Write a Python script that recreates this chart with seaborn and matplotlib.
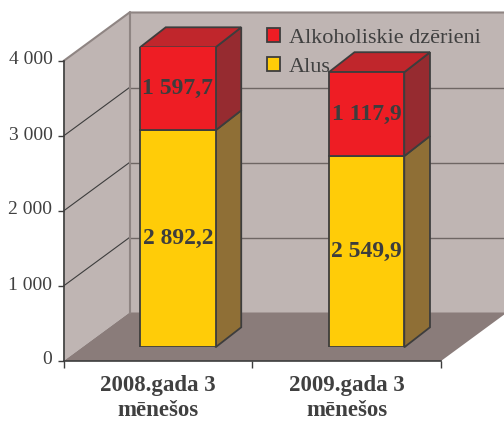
## Stacked 3D-look bars: beer and alcoholic drinks, first 3 months of 2008 and 2009.
import matplotlib
matplotlib.use("Agg")
import matplotlib.pyplot as plt
from matplotlib.patches import Polygon
from matplotlib.transforms import IdentityTransform, ScaledTranslation
import seaborn as sns

categories = ['2008.gada 3\nmēnešos', '2009.gada 3\nmēnešos']
alus = [2892.2, 2549.9]
alkohols = [1597.7, 1117.9]
alus_labels = ['2 892,2', '2 549,9']
alkohols_labels = ['1 597,7', '1 117,9']
y_ticks = [0, 1000, 2000, 3000, 4000]
y_tick_labels = ['0', '1 000', '2 000', '3 000', '4 000']
series_names = ['Alus', 'Alkoholiskie dzērieni']
y_max = 4000

W, H = 504, 421
WALL = '#bfb5b3'
FLOOR = '#8a7c7a'
WALL_EDGE = '#8f8583'
DARK = '#3d3d3d'
TEXT = '#404040'
RED, RED_SIDE, RED_TOP = '#ee1d24', '#962b30', '#c0262c'
YELLOW, YELLOW_SIDE = '#ffcc08', '#8f6f36'
DEPTH = (66, 48.5)  # px, front plane to back wall
BAR_SHIFT = (19.9, 13.7)  # px, front plane to bar faces
BAR_DEPTH = (25.7, 20)  # px

sns.set_style('white')
plt.rcParams['font.family'] = ['Liberation Serif', 'DejaVu Serif']

fig = plt.figure(figsize=(W / 100, H / 100), dpi=100)
rect = [63.5 / W, 60 / H, 377.5 / W, 300 / H]
ax = fig.add_axes(rect)
ax_bars = fig.add_axes([rect[0] + BAR_SHIFT[0] / W, rect[1] + BAR_SHIFT[1] / H, rect[2], rect[3]])


def shape(axis, pts, **kw):
    """Add a polygon given in pixels, free of the axes clip."""
    p = Polygon(pts, closed=True, transform=IdentityTransform(), clip_on=False, **kw)
    axis.add_patch(p)
    return p


# Bars.
sns.barplot(x=categories, y=alus, color=YELLOW, saturation=1, width=0.4, edgecolor=DARK,
            linewidth=1.3, label=series_names[0], ax=ax_bars)
sns.barplot(x=categories, y=alkohols, bottom=alus, color=RED, saturation=1, width=0.4,
            edgecolor=DARK, linewidth=1.3, label=series_names[1], ax=ax_bars)
ax_bars.set_xlim(-0.5, 1.5)
ax_bars.set_ylim(0, y_max)

# Front plane axes, ticks and labels.
ax.set_xlim(-0.5, 1.5)
ax.set_ylim(0, y_max)
ax.patch.set_visible(False)
sns.despine(ax=ax, top=True, right=True)
for side in ['left', 'bottom']:
    ax.spines[side].set_color(DARK)
    ax.spines[side].set_linewidth(1.2)
ax.set_yticks(y_ticks, y_tick_labels, fontsize=14, color=TEXT)
ax.tick_params(axis='y', left=True, length=4, width=1, color=DARK, pad=4)
for lab in ax.get_yticklabels():
    lab.set_transform(lab.get_transform() + ScaledTranslation(0, 3 / 100, fig.dpi_scale_trans))
ax.set_xticks(range(len(categories)), categories, fontsize=16.5, fontweight='bold', color=TEXT,
              linespacing=1.25)
ax.tick_params(axis='x', which='major', length=0, pad=10)
ax.set_xticks([-0.5, 0.5, 1.5], minor=True)
ax.tick_params(axis='x', which='minor', bottom=True, length=5, width=1, color=DARK)

# Walls and floor, built from the front plane corners.
to_px = ax.transData.transform
x0, y0 = to_px((-0.5, 0))
x1, _ = to_px((1.5, 0))
_, y4 = to_px((-0.5, y_max))
dx, dy = DEPTH
shape(ax, [(x0, y0), (x0 + dx, y0 + dy), (x0 + dx, y4 + dy), (x0, y4)], facecolor=WALL, edgecolor='none', zorder=0.1)
shape(ax, [(x0 + dx, y0 + dy), (W + 5, y0 + dy), (W + 5, y4 + dy), (x0 + dx, y4 + dy)], facecolor=WALL, edgecolor='none', zorder=0.1)
shape(ax, [(x0, y0), (x1, y0), (x1 + dx, y0 + dy), (x0 + dx, y0 + dy)], facecolor=FLOOR, edgecolor='none', zorder=0.2)
for val in y_ticks[1:-1]:
    _, yv = to_px((-0.5, val))
    ax.plot([x0, x0 + dx], [yv, yv + dy], color=DARK, lw=0.8, transform=IdentityTransform(), clip_on=False, zorder=0.3)
    ax.plot([x0 + dx, W + 5], [yv + dy, yv + dy], color='#6e6664', lw=1, transform=IdentityTransform(), clip_on=False, zorder=0.3)
ax.plot([x0, x0 + dx, W + 5], [y4, y4 + dy, y4 + dy], color=WALL_EDGE, lw=1.5, transform=IdentityTransform(), clip_on=False, zorder=0.4)
ax.plot([x0 + dx, x0 + dx], [y0 + dy, y4 + dy], color=WALL_EDGE, lw=1.5, transform=IdentityTransform(), clip_on=False, zorder=0.4)

# Depth faces of the bars, taken from the drawn patches and cut at the axis top.
bdx, bdy = BAR_DEPTH
n = len(categories)
for i, bar in enumerate(ax_bars.patches[:2 * n]):
    left, right = bar.get_x(), bar.get_x() + bar.get_width()
    low = min(bar.get_y(), y_max)
    high = min(bar.get_y() + bar.get_height(), y_max)
    (xa, ya), (xb, yb) = ax_bars.transData.transform([(left, low), (right, high)])
    side = YELLOW_SIDE if i < n else RED_SIDE
    shape(ax_bars, [(xb, ya), (xb + bdx, ya + bdy), (xb + bdx, yb + bdy), (xb, yb)],
          facecolor=side, edgecolor=DARK, linewidth=1.3, zorder=0.5)
    if i >= n:
        shape(ax_bars, [(xa, yb), (xb, yb), (xb + bdx, yb + bdy), (xa + bdx, yb + bdy)],
              facecolor=RED_TOP, edgecolor=DARK, linewidth=1.3, zorder=0.5)

# Value labels, centred on the visible part of each segment.
for i in range(n):
    mid_low = alus[i] / 2
    mid_high = (alus[i] + min(alus[i] + alkohols[i], y_max)) / 2
    for y, txt in [(mid_low, alus_labels[i]), (mid_high, alkohols_labels[i])]:
        ax_bars.text(i, y, txt, ha='center', va='center', fontsize=17, fontweight='bold', color=DARK, zorder=5)

# Legend, top series first.
handles, labels = ax_bars.get_legend_handles_labels()
leg = ax_bars.legend(handles[::-1], labels[::-1], loc='upper left', frameon=False,
                     bbox_to_anchor=(267 / W, (H - 28) / H), bbox_transform=fig.transFigure,
                     fontsize=16, handlelength=0.6, handleheight=0.6, handletextpad=0.37,
                     labelspacing=0.42, labelcolor=TEXT, borderpad=0, borderaxespad=0)
ax_bars.axis('off')
ax_bars.legend_.set_visible(True)

# Save plot.
fig.savefig('out.png', dpi=100)
